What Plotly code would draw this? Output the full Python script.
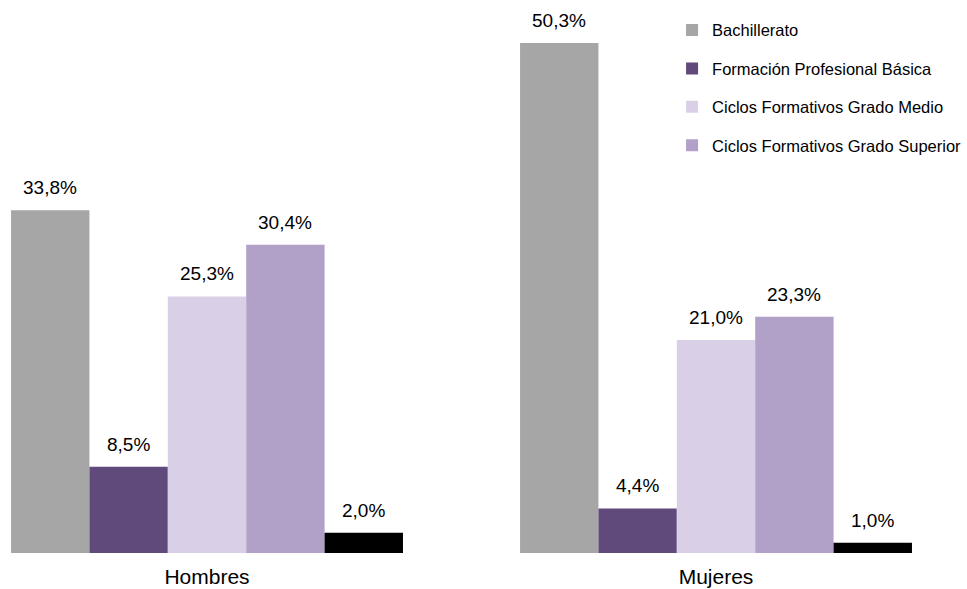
import plotly.graph_objects as go

categories = ["Hombres", "Mujeres"]
series_names = ["Bachillerato", "Formación Profesional Básica",
                "Ciclos Formativos Grado Medio", "Ciclos Formativos Grado Superior", "Otros"]
bachillerato = [33.8, 50.3]
fp_basica = [8.5, 4.4]
grado_medio = [25.3, 21.0]
grado_superior = [30.4, 23.3]
otros = [2.0, 1.0]
values = [bachillerato, fp_basica, grado_medio, grado_superior, otros]
colors = ["#A6A6A6", "#604A7B", "#D9D0E8", "#B1A0C7", "#000000"]
show_legend = [True, True, True, True, False]

x_pos = list(range(len(categories)))
bargap = 0.23
n = len(values)
bw = (1 - bargap) / n

fig = go.Figure()
annotations = []
for j, (name, vals, col, sl) in enumerate(zip(series_names, values, colors, show_legend)):
    fig.add_trace(go.Bar(
        x=x_pos, y=vals, name=name, marker=dict(color=col, line=dict(width=0)),
        showlegend=sl, legendgroup=name,
    ))
    for i, v in enumerate(vals):
        annotations.append(dict(
            x=x_pos[i] + (j - (n - 1) / 2) * bw, y=v, xref="x", yref="y",
            text=f"{v:.1f}".replace(".", ",") + "%", showarrow=False,
            yanchor="bottom", yshift=10,
            font=dict(family="Liberation Sans, Arial", size=19, color="#000"),
        ))

fig.update_layout(
    width=967, height=589,
    margin=dict(l=0, r=0, t=10, b=36, autoexpand=False),
    paper_bgcolor="white", plot_bgcolor="white",
    barmode="group", bargap=bargap, bargroupgap=0,
    font=dict(family="Liberation Sans, Arial", size=15, color="#000"),
    xaxis=dict(range=[-0.4067, 1.4931], tickvals=x_pos, ticktext=categories,
               showgrid=False, zeroline=False, showline=False, ticks="",
               ticklabelstandoff=9, tickfont=dict(size=21)),
    yaxis=dict(range=[0, 53.55], visible=False, showgrid=False, zeroline=False),
    legend=dict(x=0.695, y=0.995, xanchor="left", yanchor="top",
                font=dict(size=16.5), bgcolor="rgba(0,0,0,0)",
                traceorder="grouped", tracegroupgap=14),
    annotations=annotations,
)

fig.write_html("out.html", config={"displayModeBar": False},
               post_script="document.body.style.margin='0';document.body.style.overflow='hidden';")
